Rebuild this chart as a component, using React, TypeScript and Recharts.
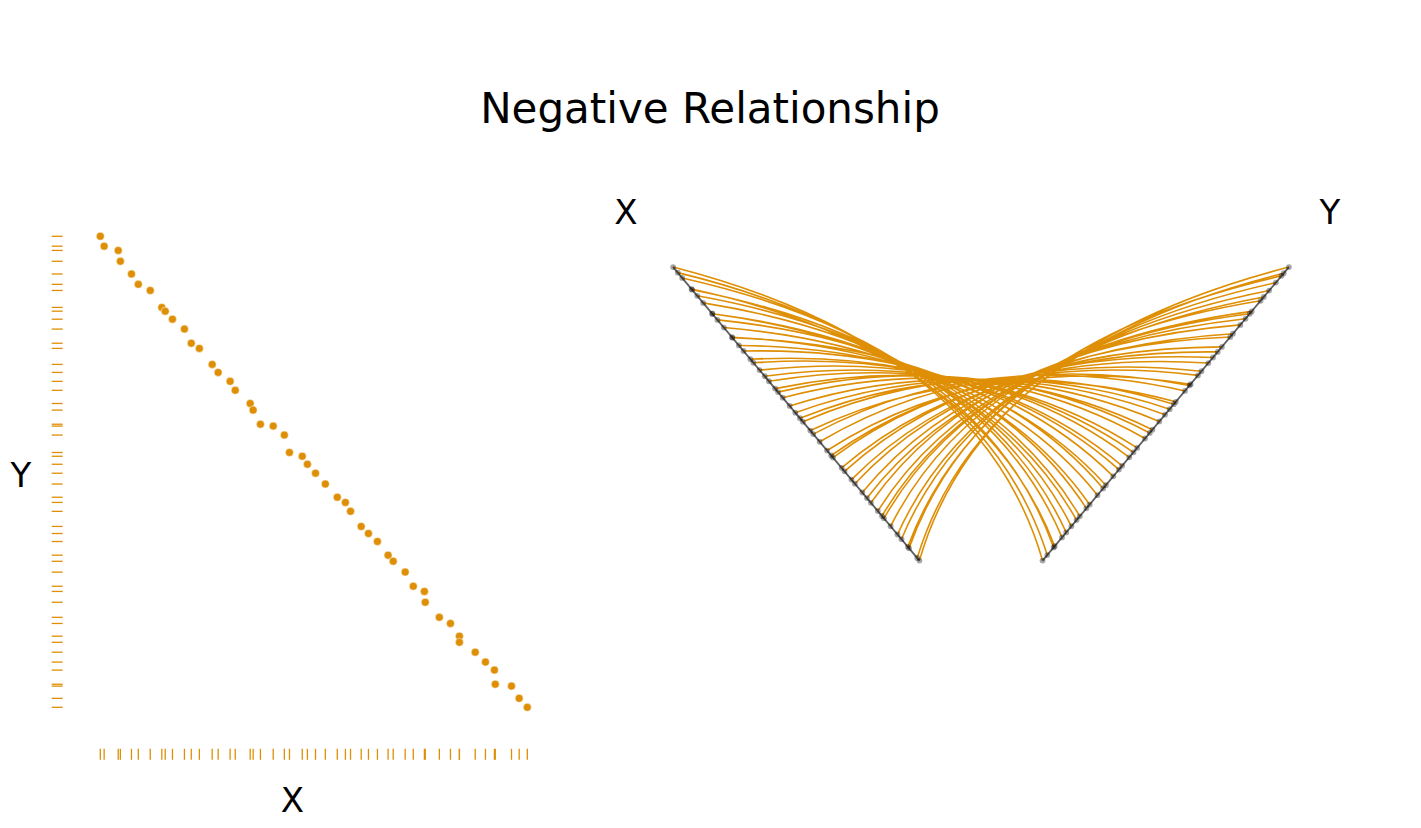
import React from 'react';
import { ScatterChart, Scatter, XAxis, YAxis } from 'recharts';

const ORANGE = '#DE8F05';
const FONT = '"DejaVu Sans", Verdana, sans-serif';

// values, on a 0-100 scale
const xValues = [
  0, 0.9, 4.2, 4.7, 7.3, 8.9, 11.7, 14.4, 15.2, 16.9,
  19.7, 21.3, 23.2, 26.2, 27.6, 30.4, 31.6, 35.1, 35.8, 37.5,
  40.5, 43.1, 44.3, 47.3, 48.5, 50.4, 52.7, 55.5, 57.4, 58.6,
  61.1, 62.8, 64.9, 67.4, 68.6, 71.4, 73.3, 75.9, 76.1, 79.4,
  82.0, 84.1, 84.1, 87.8, 90.2, 92.3, 92.5, 96.3, 98.1, 100,
];
const yValues = [
  100, 97.9, 97.0, 94.7, 92.0, 89.8, 88.5, 84.9, 84.1, 82.4,
  80.3, 77.3, 76.2, 72.8, 71.1, 69.2, 67.3, 64.5, 63.1, 60.1,
  59.7, 57.8, 54.1, 53.3, 51.6, 49.7, 47.4, 44.6, 43.5, 41.6,
  38.4, 36.9, 35.2, 32.3, 31.0, 28.7, 25.7, 24.6, 22.3, 19.1,
  17.8, 15.1, 13.8, 11.7, 9.6, 7.9, 4.9, 4.5, 1.9, 0,
];

const title = 'Negative Relationship';
const xName = 'X';
const yName = 'Y';

// ---- left panel layout (pixels) ----
const LW = 600;
const LH = 828;
const xMin = Math.min(...xValues);
const xMax = Math.max(...xValues);
const yMin = Math.min(...yValues);
const yMax = Math.max(...yValues);
const xPxPerUnit = (527.3 - 100.3) / (xMax - xMin);
const yPxPerUnit = (707.3 - 236.3) / (yMax - yMin);
const leftXDomain = [xMin - 100.3 / xPxPerUnit, xMin - 100.3 / xPxPerUnit + LW / xPxPerUnit];
const leftYTop = yMax + 236.3 / yPxPerUnit;
const leftYDomain = [leftYTop - LH / yPxPerUnit, leftYTop];
const xRugLevel = leftYTop - 754.3 / yPxPerUnit;
const yRugLevel = leftXDomain[0] + 57.2 / xPxPerUnit;

const scatterData = xValues.map((x, i) => ({ x, y: yValues[i] }));
const xRugData = xValues.map((x) => ({ x, y: xRugLevel }));
const yRugData = yValues.map((y) => ({ x: yRugLevel, y }));

// ---- right panel (hive) layout ----
const RL = 600;
const RW = 821;
const RH = 828;
const UNIT = 479; // px per hive radius unit
const CX = 381;
const CY = 634;
const R_IN = 0.2;
const R_OUT = 1;
const ANG = (40 * Math.PI) / 180;
const hiveXDomain = [-CX / UNIT, (RW - CX) / UNIT];
const hiveYDomain = [(CY - RH) / UNIT, CY / UNIT];

const radius = (v: number, lo: number, hi: number) => R_IN + ((R_OUT - R_IN) * (v - lo)) / (hi - lo);
const xNodes = xValues.map((v) => {
  const r = radius(v, xMin, xMax);
  return { lx: -r * Math.sin(ANG), ly: r * Math.cos(ANG), r };
});
const yNodes = yValues.map((v) => {
  const r = radius(v, yMin, yMax);
  return { lx: r * Math.sin(ANG), ly: r * Math.cos(ANG), r };
});
// each edge: start, control (mid angle, mean radius), end
const edgeData = xNodes.flatMap((a, i) => {
  const b = yNodes[i];
  return [a, { lx: 0, ly: (a.r + b.r) / 2 }, b];
});
const axisX = [
  { lx: -R_IN * Math.sin(ANG), ly: R_IN * Math.cos(ANG) },
  { lx: -R_OUT * Math.sin(ANG), ly: R_OUT * Math.cos(ANG) },
];
const axisY = [
  { lx: R_IN * Math.sin(ANG), ly: R_IN * Math.cos(ANG) },
  { lx: R_OUT * Math.sin(ANG), ly: R_OUT * Math.cos(ANG) },
];
const nodeData = [...xNodes, ...yNodes];

const noShape = () => <g />;

const EdgeCurves = (p: any) => {
  const pts = p.points || [];
  let d = '';
  for (let i = 0; i + 2 < pts.length; i += 3) {
    d += `M${pts[i].x},${pts[i].y}Q${pts[i + 1].x},${pts[i + 1].y} ${pts[i + 2].x},${pts[i + 2].y}`;
  }
  return <path d={d} fill="none" stroke={ORANGE} strokeWidth={1.6} />;
};

const Dot = (p: any) => (
  <circle cx={p.cx} cy={p.cy} r={4} fill={ORANGE} stroke="#fff" strokeWidth={0.5} />
);
const RugV = (p: any) => (
  <line x1={p.cx} x2={p.cx} y1={p.cy - 5.5} y2={p.cy + 5.5} stroke={ORANGE} strokeWidth={1.3} />
);
const RugH = (p: any) => (
  <line x1={p.cx - 5.5} x2={p.cx + 5.5} y1={p.cy} y2={p.cy} stroke={ORANGE} strokeWidth={1.3} />
);
const Node = (p: any) => <circle cx={p.cx} cy={p.cy} r={2.9} fill="#000" fillOpacity={0.35} />;

export default function App() {
  return (
    <div style={{ position: 'absolute', left: 0, top: 0, width: 1421, height: 828, background: '#fff' }}>
      <div style={{ position: 'absolute', left: 0, top: 0 }}>
        <ScatterChart width={LW} height={LH} margin={{ top: 0, right: 0, bottom: 0, left: 0 }}>
          <XAxis type="number" dataKey="x" domain={leftXDomain} hide allowDataOverflow />
          <YAxis type="number" dataKey="y" domain={leftYDomain} hide allowDataOverflow />
          <Scatter data={xRugData} shape={RugV} isAnimationActive={false} />
          <Scatter data={yRugData} shape={RugH} isAnimationActive={false} />
          <Scatter data={scatterData} shape={Dot} isAnimationActive={false} />
        </ScatterChart>
      </div>
      <div style={{ position: 'absolute', left: RL, top: 0 }}>
        <ScatterChart width={RW} height={RH} margin={{ top: 0, right: 0, bottom: 0, left: 0 }}>
          <XAxis type="number" dataKey="lx" domain={hiveXDomain} hide allowDataOverflow />
          <YAxis type="number" dataKey="ly" domain={hiveYDomain} hide allowDataOverflow />
          <Scatter data={edgeData} line={EdgeCurves} lineType="joint" shape={noShape} isAnimationActive={false} />
          <Scatter data={axisX} line={{ stroke: '#5f5f5f', strokeWidth: 1.8 }} lineType="joint" shape={noShape} isAnimationActive={false} />
          <Scatter data={axisY} line={{ stroke: '#5f5f5f', strokeWidth: 1.8 }} lineType="joint" shape={noShape} isAnimationActive={false} />
          <Scatter data={nodeData} shape={Node} isAnimationActive={false} />
        </ScatterChart>
      </div>
      <svg width={1421} height={828} style={{ position: 'absolute', left: 0, top: 0, pointerEvents: 'none' }}>
        <g fontFamily={FONT} fill="#000" textAnchor="middle">
          <text x={710} y={123} fontSize={42}>{title}</text>
          <text x={626} y={224} fontSize={34}>{xName}</text>
          <text x={1330} y={224} fontSize={34}>{yName}</text>
          <text x={21} y={487.3} fontSize={34}>{yName}</text>
          <text x={292.5} y={812} fontSize={34}>{xName}</text>
        </g>
      </svg>
    </div>
  );
}
